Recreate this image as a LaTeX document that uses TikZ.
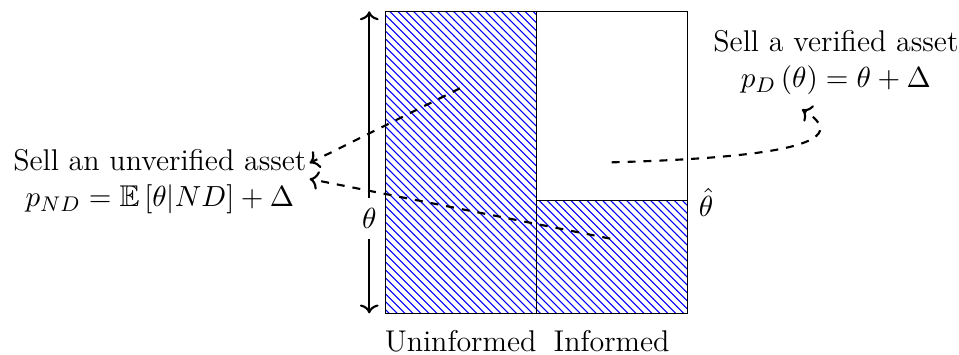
\documentclass[11pt,tikz,border=0pt]{standalone}
\usepackage{amsmath,amssymb}
\usepackage{tikz}
\usetikzlibrary{arrows.meta,patterns}

\begin{document}
\begin{tikzpicture}[font=\fontsize{11.3}{13.6}\selectfont,
  hachure/.style={draw, pattern=north west lines, pattern color=blue},
  fleche/.style={->, thick, dashed},
  texte/.style={align=center, inner sep=1pt}]
\useasboundingbox (-5.10,-0.54) rectangle (7.60,4.15);
% les deux colonnes
\draw[hachure] (0,0) rectangle (2,4);
\draw[hachure] (2,0) rectangle (4,1.5);
\draw (2,1.5) rectangle (4,4);
% axe de theta
\node (th) at (-0.21,1.26) {$\theta$};
\coordinate (haut) at (-0.21,4);
\coordinate (bas) at (-0.21,0);
\draw[->, thick] (th) -- (haut);
\draw[->, thick] (th) -- (bas);
\node[inner sep=1pt] (thc) at (4.25,1.47) {$\hat{\theta}$};
\node (un) at (1,-0.37) {Uninformed};
\node (inf) at (3,-0.37) {Informed};
% textes
\node[texte, anchor=east] (nd) at (-1.0,1.74) {Sell an unverified asset\\ $p_{ND}=\mathbb{E}\left[\theta|ND\right]+\Delta$};
\node[texte] (d) at (5.97,3.32) {Sell a verified asset\\ $p_{D}\left(\theta\right)=\theta+\Delta$};
% fleches
\coordinate (a1) at (0.99,2.98);
\coordinate (a2) at (2.98,0.99);
\coordinate (a3) at (3.0,2.0);
\draw[fleche] (a1) -- ([yshift=0.25cm]nd.east);
\draw[fleche] (a2) -- ([yshift=0.04cm]nd.east);
\draw[fleche] (a3) .. controls (4.8,2.05) and (6.35,2.2) .. ([shift={(-0.45,-0.15)}]d.south);
\end{tikzpicture}
\end{document}
